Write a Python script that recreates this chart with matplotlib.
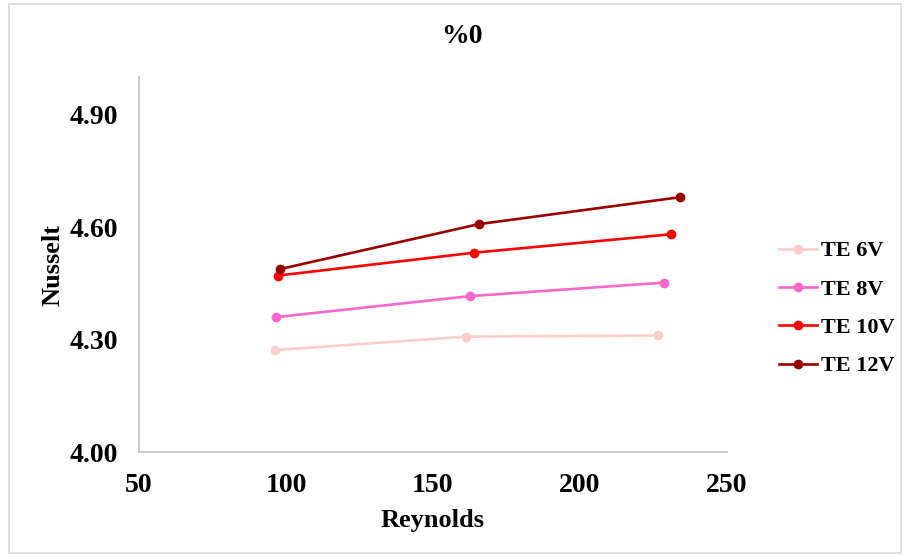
import matplotlib.pyplot as plt
from matplotlib.patches import Rectangle

# values
series_names = ["TE 6V", "TE 8V", "TE 10V", "TE 12V"]
re_6v = [96.2, 161.4, 226.4]
nu_6v = [4.272, 4.308, 4.311]
re_8v = [96.6, 162.6, 228.5]
nu_8v = [4.360, 4.416, 4.452]
re_10v = [97.4, 164.1, 230.9]
nu_10v = [4.471, 4.532, 4.581]
re_12v = [97.9, 165.5, 234.0]
nu_12v = [4.488, 4.608, 4.680]
x_ticks = [50, 100, 150, 200, 250]
y_ticks = [4.00, 4.30, 4.60, 4.90]

colors = ["#ffcccc", "#ff66cc", "#ff0000", "#990000"]
font = "Liberation Serif"

fig = plt.figure(figsize=(9.06, 5.56), dpi=100)
ax = fig.add_axes([0.1534, 0.187, 0.649, 0.674])

all_x = [re_6v, re_8v, re_10v, re_12v]
all_y = [nu_6v, nu_8v, nu_10v, nu_12v]
for xs, ys, c, name in zip(all_x, all_y, colors, series_names):
    ax.plot(xs, ys, color=c, linewidth=1.9, marker="o", markersize=6, label=name)

ax.set_xlim(50, 250)
ax.set_ylim(4.0, 5.0)
ax.set_xticks(x_ticks)
ax.set_yticks(y_ticks)
ax.set_yticklabels(["%.2f" % v for v in y_ticks])
ax.tick_params(length=0, labelsize=20)
ax.tick_params(axis="x", pad=15)
ax.tick_params(axis="y", pad=15)
for lab in ax.get_xticklabels() + ax.get_yticklabels():
    lab.set_fontfamily(font)
    lab.set_fontweight("bold")

for s in ["top", "right"]:
    ax.spines[s].set_visible(False)
for s in ["left", "bottom"]:
    ax.spines[s].set_color("#bfbfbf")
    ax.spines[s].set_linewidth(1.2)

ax.set_xlabel("Reynolds", fontfamily=font, fontweight="bold", fontsize=19, labelpad=8)
ax.set_ylabel("Nusselt", fontfamily=font, fontweight="bold", fontsize=19, labelpad=4)
fig.text(0.51, 0.934, "%0", ha="center", va="center", fontfamily=font,
         fontweight="bold", fontsize=20)

leg = fig.legend(loc="center left", bbox_to_anchor=(0.838, 0.445), frameon=False,
                 handlelength=1.7, labelspacing=0.8, handletextpad=0.2,
                 prop={"family": font, "weight": "bold", "size": 16})

# thin grey border around the whole chart area
fig.patches.append(Rectangle((0.010, 0.006), 0.985, 0.986, transform=fig.transFigure,
                             fill=False, edgecolor="#d9d9d9", linewidth=1.2))

fig.savefig("out.png", dpi=100)
